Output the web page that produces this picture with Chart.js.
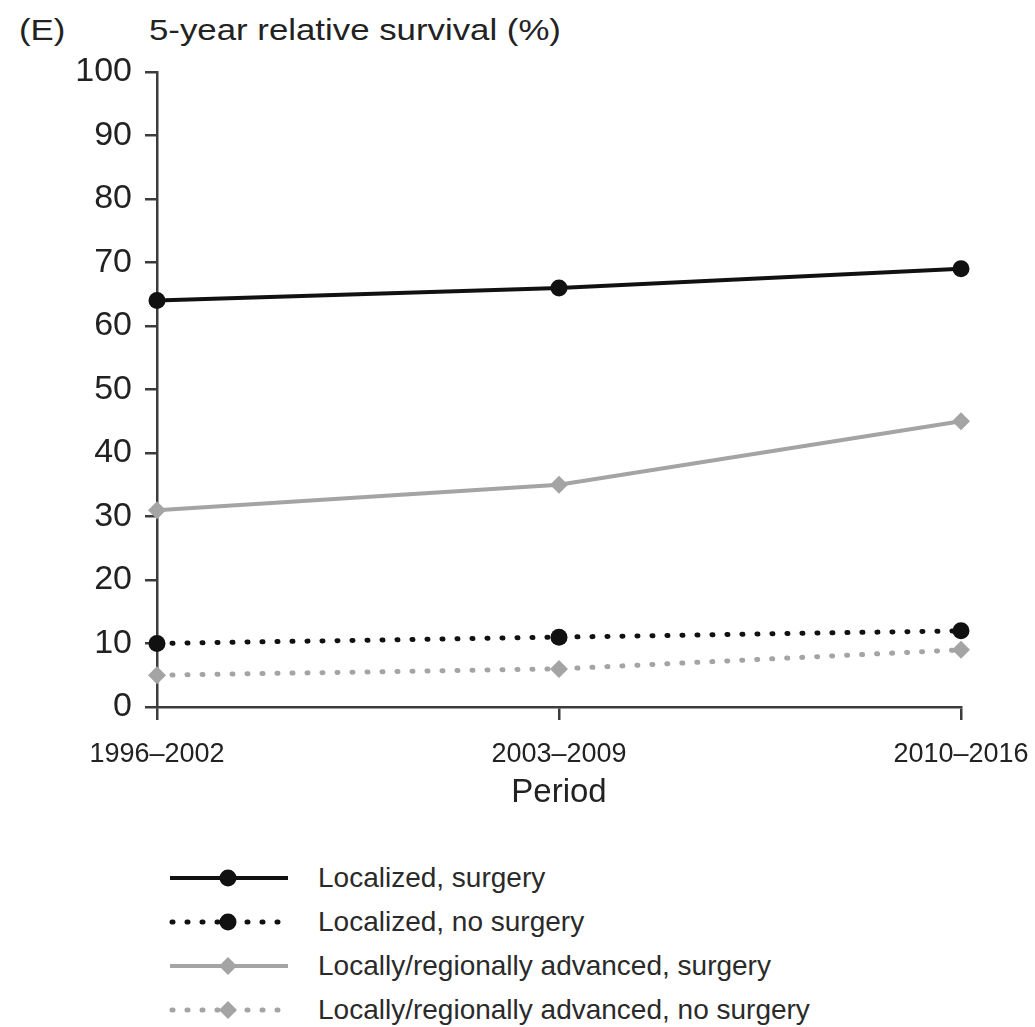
<!DOCTYPE html>
<html>
<head>
<meta charset="utf-8">
<script src="https://cdn.jsdelivr.net/npm/chart.js@4.4.1/dist/chart.umd.min.js"></script>
<style>
    body { margin: 0; background: #fff; font-family: "Liberation Sans", Arial, sans-serif; color: #222; }
    #wrap { position: relative; width: 1035px; height: 1027px; overflow: hidden; }
    #chart { position: absolute; left: 0; top: 0; }
    .title { position: absolute; top: 11px; font-size: 30px; line-height: 38px; white-space: nowrap;
             transform: scaleX(1.16); transform-origin: left center; }
    .legend { position: absolute; left: 166px; top: 856px; }
    .legend-row { display: flex; align-items: center; height: 44px; }
    .legend-row svg { width: 130px; height: 24px; margin-right: 22px; }
    .legend-row span { font-size: 28px; white-space: nowrap; color: #2a2a2a; }
</style>
</head>
<body>
<div id="wrap">
    <div class="title" style="left:19px">(E)</div>
    <div class="title" style="left:149px">5-year relative survival (%)</div>
    <canvas id="chart" width="1035" height="830"></canvas>
    <div class="legend" id="legend"></div>
</div>
<script>
// Data
const periods = ['1996–2002', '2003–2009', '2010–2016'];
const localizedSurgery = [64, 66, 69];
const localizedNoSurgery = [10, 11, 12];
const advancedSurgery = [31, 35, 45];
const advancedNoSurgery = [5, 6, 9];
const seriesNames = [
    'Localized, surgery',
    'Localized, no surgery',
    'Locally/regionally advanced, surgery',
    'Locally/regionally advanced, no surgery'
];
const yMin = 0;
const yMax = 100;
const yStep = 10;

const black = '#111';
const grey = '#a4a4a4';
const axisColor = '#3c3c3c';
const dots = [1, 14];

function series(label, data, color, dashed, pointStyle, radius) {
    return {
        label: label,
        data: data,
        borderColor: color,
        backgroundColor: color,
        borderWidth: dashed ? 5 : 4,
        borderDash: dashed ? dots : [],
        borderCapStyle: dashed ? 'round' : 'butt',
        pointStyle: pointStyle,
        pointRadius: radius,
        pointBorderWidth: 0,
        pointBackgroundColor: color,
        tension: 0,
        clip: false
    };
}

const datasets = [
    series(seriesNames[0], localizedSurgery, black, false, 'circle', 8.5),
    series(seriesNames[1], localizedNoSurgery, black, true, 'circle', 8.5),
    series(seriesNames[2], advancedSurgery, grey, false, 'rectRot', 9),
    series(seriesNames[3], advancedNoSurgery, grey, true, 'rectRot', 9)
];

new Chart(document.getElementById('chart').getContext('2d'), {
    type: 'line',
    data: { labels: periods, datasets: datasets },
    options: {
        responsive: false,
        animation: false,
        layout: { padding: { top: 72, right: 74, left: 0, bottom: 0 } },
        plugins: { legend: { display: false }, tooltip: { enabled: false } },
        scales: {
            x: {
                offset: false,
                afterFit: function(scale) {
                    scale.height = 123;
                    scale.paddingLeft = 0;
                    scale.paddingRight = 0;
                },
                border: { display: true, color: axisColor, width: 2.5 },
                grid: { drawOnChartArea: false, drawTicks: true, tickLength: 13, color: axisColor, lineWidth: 2.5 },
                ticks: {
                    color: '#222', padding: 18, maxRotation: 0, autoSkip: false,
                    font: { family: '"Liberation Sans", Arial, sans-serif', size: 27 }
                },
                title: {
                    display: true, text: 'Period', color: '#222',
                    padding: { top: 0, bottom: 17 },
                    font: { family: '"Liberation Sans", Arial, sans-serif', size: 33 }
                }
            },
            y: {
                min: yMin,
                max: yMax,
                afterFit: function(scale) {
                    scale.width = 157;
                    scale.paddingTop = 0;
                    scale.paddingBottom = 0;
                },
                border: { display: true, color: axisColor, width: 2.5 },
                grid: { drawOnChartArea: false, drawTicks: true, tickLength: 12, color: axisColor, lineWidth: 2.5 },
                ticks: {
                    stepSize: yStep, color: '#222', padding: 13,
                    font: { family: '"Liberation Sans", Arial, sans-serif', size: 34 }
                }
            }
        }
    }
});

// HTML legend: line sample with marker, then the series name
const legend = document.getElementById('legend');
datasets.forEach(ds => {
    const dashed = ds.borderDash.length > 0;
    const color = ds.borderColor;
    const line = dashed
        ? `<line x1="6" y1="12" x2="126" y2="12" stroke="${color}" stroke-width="5" stroke-linecap="round" stroke-dasharray="1 14"/>`
        : `<line x1="4" y1="12" x2="122" y2="12" stroke="${color}" stroke-width="4"/>`;
    const marker = ds.pointStyle === 'circle'
        ? `<circle cx="62" cy="12" r="8.5" fill="${color}"/>`
        : `<polygon points="62,3 71,12 62,21 53,12" fill="${color}"/>`;
    const row = document.createElement('div');
    row.className = 'legend-row';
    row.innerHTML = `<svg viewBox="0 0 130 24">${line}${marker}</svg><span>${ds.label}</span>`;
    legend.appendChild(row);
});
</script>
</body>
</html>
